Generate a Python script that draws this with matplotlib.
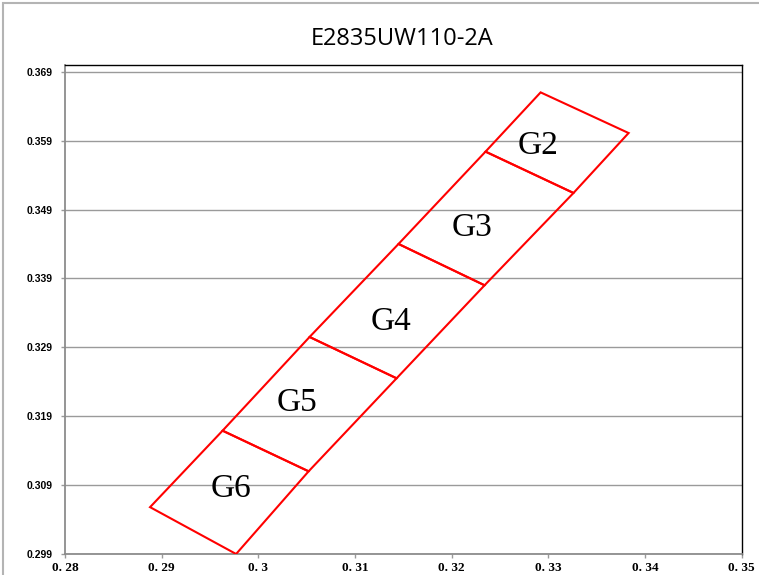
import matplotlib
matplotlib.use("Agg")
import matplotlib.pyplot as plt
from matplotlib.patches import Rectangle, Polygon

# corner points of the bins, along the upper-left edge and the lower-right edge
left_x = [0.2888, 0.2963, 0.3053, 0.3145, 0.3235, 0.3292]
left_y = [0.3058, 0.3169, 0.3305, 0.3440, 0.3574, 0.3660]
right_x = [0.2977, 0.3052, 0.3143, 0.3234, 0.3326, 0.3383]
right_y = [0.2990, 0.3110, 0.3245, 0.3380, 0.3514, 0.3601]

bin_names = ["G6", "G5", "G4", "G3", "G2"]
label_x = [0.2972, 0.3040, 0.3137, 0.3221, 0.3289]
label_y = [0.3085, 0.3209, 0.3327, 0.3463, 0.3582]

x_ticks = [0.28, 0.29, 0.30, 0.31, 0.32, 0.33, 0.34, 0.35]
x_tick_labels = ["0. 28", "0. 29", "0. 3", "0. 31", "0. 32", "0. 33", "0. 34", "0. 35"]
y_ticks = [0.299, 0.309, 0.319, 0.329, 0.339, 0.349, 0.359, 0.369]

title = "E2835UW110-2A"

fig = plt.figure(figsize=(7.59, 5.75), dpi=100)
ax = fig.add_axes([65 / 759, 1 - 554 / 575, (741.7 - 65) / 759, (554 - 65.3) / 575])

# outer chart border (only top/left show in the crop)
fig.patches.append(Rectangle((3 / 759, -0.1), 1.2, 1 - 3 / 575 + 0.1,
                             transform=fig.transFigure, fill=False,
                             edgecolor="#b4b4b4", lw=1.5))

for i in range(len(bin_names)):
    pts = [(left_x[i], left_y[i]), (left_x[i + 1], left_y[i + 1]),
           (right_x[i + 1], right_y[i + 1]), (right_x[i], right_y[i])]
    ax.add_patch(Polygon(pts, closed=True, fill=False, edgecolor="#ff0000",
                         lw=1.5, zorder=3))
    ax.text(label_x[i], label_y[i], bin_names[i], ha="center", va="center",
            family="Liberation Serif", fontsize=24, color="black", zorder=4)

ax.set_xlim(0.28, 0.35)
ax.set_ylim(0.299, 0.36993)
ax.set_xticks(x_ticks)
ax.set_xticklabels(x_tick_labels)
ax.set_yticks(y_ticks)
ax.set_yticklabels(["%.3f" % v for v in y_ticks])
for lab in ax.get_xticklabels():
    lab.set_fontfamily("Liberation Serif")
    lab.set_fontweight("bold")
    lab.set_fontsize(9.5)
for lab in ax.get_yticklabels():
    lab.set_fontfamily("Liberation Sans")
    lab.set_fontweight("bold")
    lab.set_fontsize(7.5)

ax.grid(axis="y", color="#9a9a9a", lw=1)
ax.set_axisbelow(True)
ax.tick_params(axis="both", direction="out", length=3, width=1, color="#9a9a9a")
ax.tick_params(axis="y", pad=6)
ax.tick_params(axis="x", pad=3)

for side in ["left", "bottom"]:
    ax.spines[side].set_color("#8c8c8c")
    ax.spines[side].set_linewidth(1.3)
for side in ["top", "right"]:
    ax.spines[side].set_color("black")
    ax.spines[side].set_linewidth(1.0)

fig.text(402 / 759, 1 - 39 / 575, title, ha="center", va="center",
         family="Open Sans", fontsize=17, color="black")

fig.savefig("out.png", dpi=100)
